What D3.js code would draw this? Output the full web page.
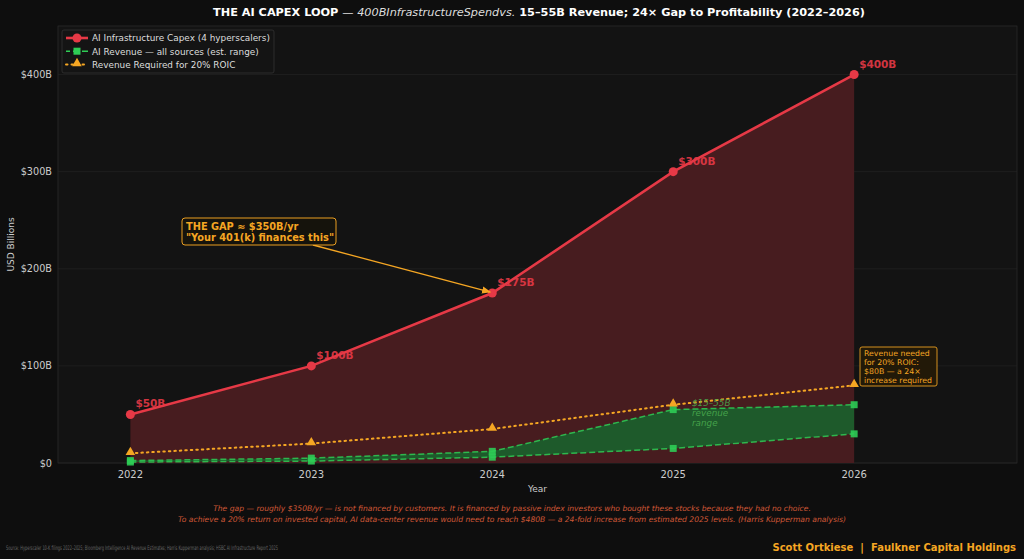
<!DOCTYPE html>
<html><head><meta charset="utf-8">
<script src="https://cdn.jsdelivr.net/npm/d3@7"></script>
<style>
html,body{margin:0;padding:0;background:#0e0e0e;}
svg{display:block;font-family:"DejaVu Sans",sans-serif;}
</style></head>
<body>
<svg id="c" width="1024" height="559"></svg>
<script>
const years = [2022, 2023, 2024, 2025, 2026];
const capex = [50, 100, 175, 300, 400];
const revLow = [1, 2, 6, 15, 30];
const revHigh = [2.5, 5, 12, 55, 60];
const required = [10, 20, 35, 60, 80];
const capexLabels = ["$50B", "$100B", "$175B", "$300B", "$400B"];
const yTicks = [0, 100, 200, 300, 400];
const yTickLabels = ["$0", "$100B", "$200B", "$300B", "$400B"];

const W = 1024, H = 559;
const m = {l: 58, r: 1017, t: 26, b: 463};
const svg = d3.select("#c");
svg.append("rect").attr("width", W).attr("height", H).attr("fill", "#0e0e0e");

const x = d3.scaleLinear().domain([2021.6, 2026.9]).range([m.l, m.r]);
const y = d3.scaleLinear().domain([0, 450]).range([m.b, m.t]);

const RED = "#e63946", GREEN = "#2ecc55", ORANGE = "#f5a623";

svg.append("rect").attr("x", m.l).attr("y", m.t).attr("width", m.r - m.l).attr("height", m.b - m.t)
  .attr("fill", "#131313").attr("stroke", "#2a2a2a").attr("stroke-width", 0.8);

svg.append("g").selectAll("line").data(yTicks).join("line")
  .attr("x1", m.l).attr("x2", m.r).attr("y1", d => y(d)).attr("y2", d => y(d))
  .attr("stroke", "#262626").attr("stroke-width", 0.6);

const pts = years.map((yr, i) => ({yr, capex: capex[i], lo: revLow[i], hi: revHigh[i], req: required[i], lab: capexLabels[i]}));

svg.append("path").datum(pts)
  .attr("d", d3.area().x(d => x(d.yr)).y0(y(0)).y1(d => y(d.capex)))
  .attr("fill", "#4a1c20").attr("opacity", 0.95);

svg.append("path").datum(pts)
  .attr("d", d3.area().x(d => x(d.yr)).y0(d => y(d.lo)).y1(d => y(d.hi)))
  .attr("fill", "#1c5e2c").attr("opacity", 0.95);

["lo", "hi"].forEach(k => {
  svg.append("path").datum(pts)
    .attr("d", d3.line().x(d => x(d.yr)).y(d => y(d[k])))
    .attr("fill", "none").attr("stroke", GREEN).attr("stroke-width", 1.5)
    .attr("stroke-dasharray", "6,3").attr("opacity", 0.85);
  svg.append("g").selectAll("rect").data(pts).join("rect")
    .attr("x", d => x(d.yr) - 3.5).attr("y", d => y(d[k]) - 3.5)
    .attr("width", 7).attr("height", 7).attr("fill", GREEN).attr("opacity", 0.9);
});

svg.append("path").datum(pts)
  .attr("d", d3.line().x(d => x(d.yr)).y(d => y(d.req)))
  .attr("fill", "none").attr("stroke", ORANGE).attr("stroke-width", 2)
  .attr("stroke-dasharray", "1.5,4").attr("stroke-linecap", "round");
const tri = d3.symbol().type(d3.symbolTriangle).size(40);
svg.append("g").selectAll("path").data(pts).join("path")
  .attr("d", tri).attr("transform", d => `translate(${x(d.yr)},${y(d.req) - 1})`)
  .attr("fill", ORANGE);

svg.append("path").datum(pts)
  .attr("d", d3.line().x(d => x(d.yr)).y(d => y(d.capex)))
  .attr("fill", "none").attr("stroke", RED).attr("stroke-width", 2.6);
svg.append("g").selectAll("circle").data(pts).join("circle")
  .attr("cx", d => x(d.yr)).attr("cy", d => y(d.capex)).attr("r", 4.5).attr("fill", RED);
svg.append("g").selectAll("text").data(pts).join("text")
  .attr("x", d => x(d.yr) + 5).attr("y", d => y(d.capex) - 7)
  .attr("fill", RED).attr("font-size", 10.5).attr("font-weight", "bold").attr("opacity", 0.9)
  .text(d => d.lab);

svg.append("g").selectAll("text").data(yTicks).join("text")
  .attr("x", m.l - 6).attr("y", d => y(d) + 3.5).attr("text-anchor", "end")
  .attr("fill", "#cccccc").attr("font-size", 9.7).text((d, i) => yTickLabels[i]);
svg.append("g").selectAll("text").data(years).join("text")
  .attr("x", d => x(d)).attr("y", m.b + 15).attr("text-anchor", "middle")
  .attr("fill", "#cccccc").attr("font-size", 10).text(d => d);
svg.append("text").attr("x", x(2024.25)).attr("y", 492).attr("text-anchor", "middle")
  .attr("fill", "#cccccc").attr("font-size", 9).text("Year");
svg.append("text").attr("transform", `translate(14,${(m.t + m.b) / 2}) rotate(-90)`)
  .attr("text-anchor", "middle").attr("fill", "#cccccc").attr("font-size", 9).text("USD Billions");

const t = svg.append("text").attr("x", 539).attr("y", 16).attr("text-anchor", "middle")
  .attr("fill", "#ffffff").attr("font-size", 11.27);
t.append("tspan").attr("font-weight", "bold").text("THE AI CAPEX LOOP ");
t.append("tspan").attr("fill", "#dddddd").text("— ");
t.append("tspan").attr("font-style", "italic").attr("fill", "#dddddd").text("400BInfrastructureSpendvs.");
t.append("tspan").attr("font-weight", "bold").text(" 15–55B Revenue; 24× Gap to Profitability (2022–2026)");

const lg = svg.append("g");
lg.append("rect").attr("x", 62).attr("y", 30).attr("width", 212).attr("height", 43).attr("rx", 2)
  .attr("fill", "#141414").attr("stroke", "#333333").attr("stroke-width", 0.8);
const legItems = [
  {label: "AI Infrastructure Capex (4 hyperscalers)", c: RED},
  {label: "AI Revenue — all sources (est. range)", c: GREEN},
  {label: "Revenue Required for 20% ROIC", c: ORANGE}
];
legItems.forEach((it, i) => {
  const yy = 38 + i * 13.2;
  const ln = lg.append("line").attr("x1", 66).attr("x2", 88).attr("y1", yy).attr("y2", yy).attr("stroke", it.c);
  if (i === 0) {
    ln.attr("stroke-width", 2.6);
    lg.append("circle").attr("cx", 77).attr("cy", yy).attr("r", 4.5).attr("fill", it.c);
  } else if (i === 1) {
    ln.attr("stroke-width", 1.5).attr("stroke-dasharray", "6,3").attr("stroke-dashoffset", 2);
    lg.append("rect").attr("x", 73.5).attr("y", yy - 3.5).attr("width", 7).attr("height", 7).attr("fill", it.c);
  } else {
    ln.attr("stroke-width", 2).attr("stroke-dasharray", "1.5,4").attr("stroke-linecap", "round");
    lg.append("path").attr("d", tri).attr("transform", `translate(77,${yy - 1})`).attr("fill", it.c);
  }
  lg.append("text").attr("x", 92).attr("y", yy + 3.3).attr("fill", "#dddddd").attr("font-size", 8.9).text(it.label);
});

const defs = svg.append("defs");
defs.append("marker").attr("id", "ah").attr("viewBox", "0 0 10 10").attr("refX", 9).attr("refY", 5)
  .attr("markerWidth", 7).attr("markerHeight", 7).attr("orient", "auto")
  .append("path").attr("d", "M0,1 L10,5 L0,9 z").attr("fill", ORANGE);
svg.append("line").attr("x1", 313).attr("y1", 245).attr("x2", x(2024) - 2).attr("y2", y(175) - 1)
  .attr("stroke", ORANGE).attr("stroke-width", 1.3).attr("marker-end", "url(#ah)");
svg.append("rect").attr("x", 182).attr("y", 218).attr("width", 154).attr("height", 27).attr("rx", 3)
  .attr("fill", "#16130c").attr("stroke", ORANGE).attr("stroke-width", 1).attr("opacity", 0.95);
const gt = svg.append("text").attr("fill", ORANGE).attr("font-size", 9.8).attr("font-weight", "bold");
gt.append("tspan").attr("x", 186).attr("y", 229.5).text("THE GAP ≈ $350B/yr");
gt.append("tspan").attr("x", 186).attr("y", 240.5).text("\"Your 401(k) finances this\"");

const rt = svg.append("text").attr("fill", "#4caf50").attr("font-size", 8.8).attr("font-style", "italic").attr("opacity", 0.85);
["$15–55B", "revenue", "range"].forEach((s, i) => rt.append("tspan").attr("x", 692).attr("y", 406 + i * 10).text(s));

svg.append("rect").attr("x", 860).attr("y", 347).attr("width", 77).attr("height", 39).attr("rx", 2)
  .attr("fill", "#231a08").attr("stroke", ORANGE).attr("stroke-width", 0.9).attr("opacity", 0.95);
const bt = svg.append("text").attr("fill", ORANGE).attr("font-size", 7.8);
["Revenue needed", "for 20% ROIC:", "$80B — a 24×", "increase required"].forEach((s, i) =>
  bt.append("tspan").attr("x", 864).attr("y", 356 + i * 9).text(s));

const f1 = svg.append("text").attr("x", 512).attr("y", 511).attr("text-anchor", "middle").attr("fill", "#e0603c")
  .attr("font-size", 7.6).attr("font-style", "italic").attr("opacity", 0.9)
  .text("The gap — roughly $350B/yr — is not financed by customers. It is financed by passive index investors who bought these stocks because they had no choice.");
const f2 = svg.append("text").attr("x", 512).attr("y", 522).attr("text-anchor", "middle").attr("fill", "#e0603c")
  .attr("font-size", 7.6).attr("font-style", "italic").attr("opacity", 0.9)
  .text("To achieve a 20% return on invested capital, AI data-center revenue would need to reach $480B — a 24-fold increase from estimated 2025 levels. (Harris Kupperman analysis)");

svg.append("text").attr("x", 6).attr("y", 550).attr("fill", "#666666").attr("font-size", 6.3)
  .attr("textLength", 272).attr("lengthAdjust", "spacingAndGlyphs")
  .text("Source: Hyperscaler 10-K filings 2022–2025; Bloomberg Intelligence AI Revenue Estimates; Harris Kupperman analysis; HSBC AI Infrastructure Report 2025");
svg.append("text").attr("x", 1016).attr("y", 551).attr("text-anchor", "end").attr("fill", ORANGE)
  .attr("font-size", 10).attr("font-weight", "bold").attr("xml:space", "preserve")
  .text("Scott Ortkiese  |  Faulkner Capital Holdings");
</script>
</body></html>
